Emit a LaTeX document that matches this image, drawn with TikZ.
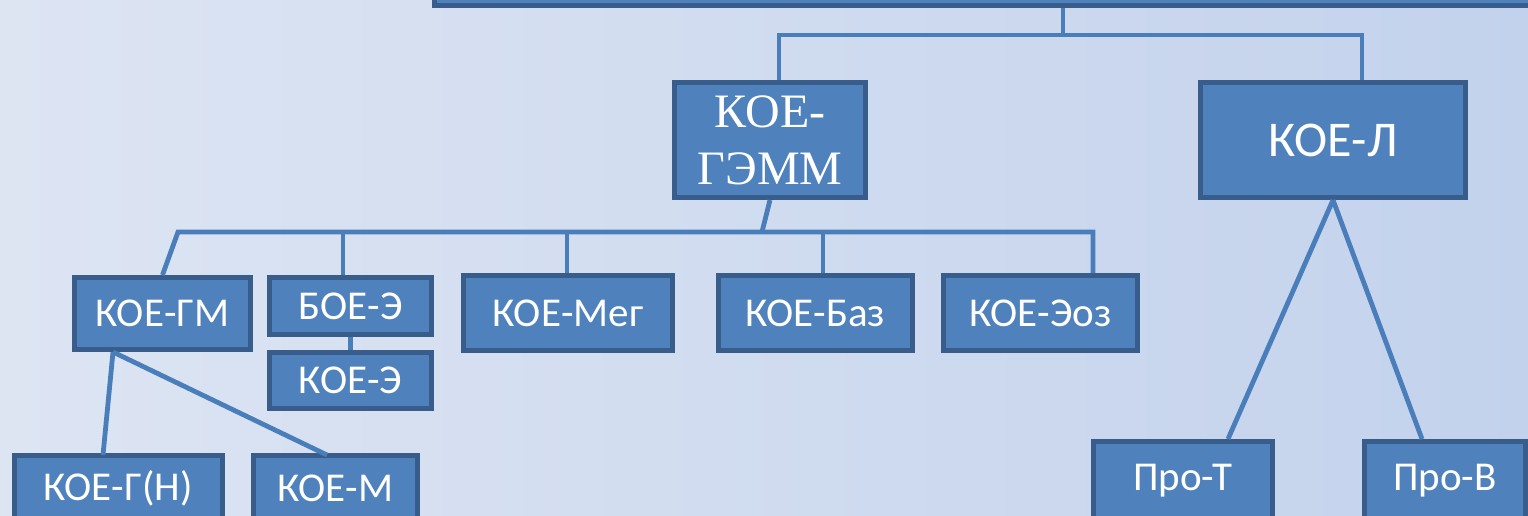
\documentclass[tikz,border=0pt]{standalone}
\usepackage{fontspec}
\setmainfont{Carlito}
\newfontfamily\serifTNR{Liberation Serif}
\definecolor{boxfill}{HTML}{4F81BD}
\definecolor{boxline}{HTML}{385D8A}
\definecolor{connc}{HTML}{4A7EBB}
\definecolor{bgl}{HTML}{DDE5F3}
\definecolor{bgr}{HTML}{C3D2EC}
\begin{document}
\begin{tikzpicture}[x=0.5pt,y=-0.5pt,
  box/.style={draw=boxline, fill=boxfill, line width=2.5pt, text=white, inner sep=0pt,
    font=\fontsize{20.5}{24}\selectfont},
  conn/.style={draw=connc, line width=2.4pt}]
\useasboundingbox (0,0) rectangle (1528,515);
\fill[left color=bgl, right color=bgr] (0,0) rectangle (1528,515);

% nodes
\node[box, minimum width=551.5pt, minimum height=11.5pt] (top) at (986,-6) {};
\node[box, minimum width=95.5pt, minimum height=57.5pt, align=center,
  font=\serifTNR\fontsize{24}{28.5}\selectfont] (gemm) at (770,140) {КОЕ-\\ГЭММ};
\node[box, minimum width=132.5pt, minimum height=57.5pt, font=\fontsize{25}{30}\selectfont] (koel) at (1333,140) {КОЕ-Л};
\node[box, minimum width=88pt, minimum height=36pt] (gm) at (162.5,313.5) {КОЕ-ГМ};
\node[box, minimum width=81pt, minimum height=28.5pt] (boe) at (350.5,306) {БОЕ-Э};
\node[box, minimum width=81pt, minimum height=28pt] (koee) at (350.5,380.5) {КОЕ-Э};
\node[box, minimum width=104.5pt, minimum height=37.5pt] (meg) at (568,313) {КОЕ-Мег};
\node[box, minimum width=97pt, minimum height=37.5pt] (baz) at (815.3,313) {КОЕ-Баз};
\node[box, minimum width=97pt, minimum height=37.5pt] (eoz) at (1040.3,313) {КОЕ-Эоз};
\node[box, minimum width=104pt, minimum height=32.5pt] (gn) at (118,488) {КОЕ-Г(Н)};
\node[box, minimum width=82pt, minimum height=32.5pt] (m) at (335.3,488) {КОЕ-М};
\node[box, minimum width=89.5pt, minimum height=40pt] (prot) at (1183,481) {Про-Т};
\node[box, minimum width=80.5pt, minimum height=40pt] (prob) at (1445,481) {Про-В};

% junction points
\coordinate (c1) at (1063,35);
\coordinate (c2) at (779,35);
\coordinate (c3) at (1362,35);
\coordinate (g1) at (762,232);
\coordinate (h0) at (178,232);
\coordinate (h5) at (1093,232);
\coordinate (hb) at (343,232);
\coordinate (hm) at (567,232);
\coordinate (hz) at (823,232);
\coordinate (gmb) at (113,352);
\coordinate (gnt) at (103,455);
\coordinate (mt) at (327,455);
\coordinate (lt) at (1228,439);
\coordinate (lb) at (1422,439);

% connectors
\draw[conn] (top.south -| c1) -- (c1);
\draw[conn] (gemm.north -| c2) -- (c2) -- (c3) -- (koel.north -| c3);
\draw[conn] (gemm.south) -- (g1);
\draw[conn] (gm.north) -- (h0) -- (h5) -- (eoz.north -| h5);
\draw[conn] (hb) -- (boe.north -| hb);
\draw[conn] (hm) -- (meg.north -| hm);
\draw[conn] (hz) -- (baz.north -| hz);
\draw[conn] (boe.south) -- (koee.north);
\draw[conn] (gmb) -- (gnt);
\draw[conn] (gmb) -- (mt);
\draw[conn] (koel.south) -- (lt);
\draw[conn] (koel.south) -- (lb);
\end{tikzpicture}
\end{document}
